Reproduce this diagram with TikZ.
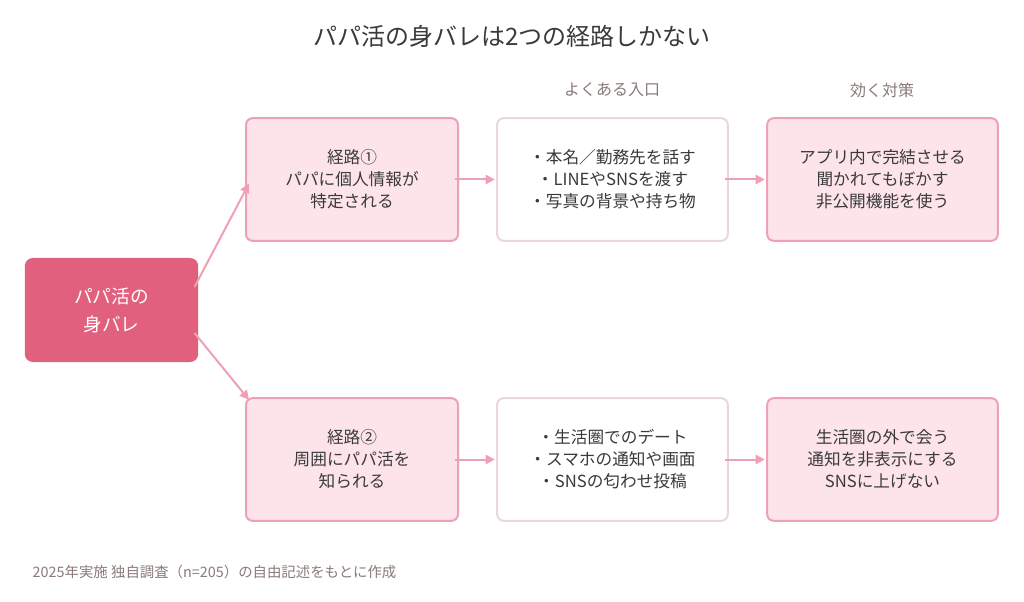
\documentclass[tikz,border=0pt]{standalone}
\usepackage{fontspec}
\setmainfont{Noto Sans CJK JP}
\usetikzlibrary{arrows.meta}
\definecolor{mainpink}{HTML}{E0607E}
\definecolor{lightpink}{HTML}{FCE4EA}
\definecolor{edgepink}{HTML}{F0A0B4}
\definecolor{greyedge}{HTML}{E8D8DA}
\definecolor{headgrey}{HTML}{8A7A78}
\definecolor{textdark}{HTML}{3A3A3A}
\tikzset{
  route/.style={rectangle, rounded corners=5pt, draw=edgepink, line width=1.5pt, fill=lightpink, minimum width=159pt, minimum height=92pt, text width=150pt, align=center, text=textdark, font=\fontsize{12.5}{16.5}\selectfont},
  entry/.style={route, draw=greyedge, fill=white, minimum width=173pt, text width=165pt},
  remedy/.style={route, minimum width=173pt, text width=165pt},
  origin/.style={rectangle, rounded corners=6pt, fill=mainpink, minimum width=130pt, minimum height=78pt, align=center, text=white, font=\fontsize{14}{21}\selectfont},
  head/.style={text=headgrey, font=\fontsize{12}{14}\selectfont},
  arrow/.style={-{Triangle[length=7pt,width=7pt]}, draw=edgepink, line width=1.5pt}
}
\begin{document}
\begin{tikzpicture}[x=0.75pt,y=-0.75pt]
\useasboundingbox (0,0) rectangle (1024,602);

\node (title) at (512,36) [text=textdark, font=\fontsize{18}{22}\selectfont] {パパ活の身バレは2つの経路しかない};
\node (hentry) at (612,90) [head] {よくある入口};
\node (hremedy) at (882,90) [head] {効く対策};

\node (mibare) at (111.5,310) [origin] {パパ活の\\身バレ};

\node (route1) at (352,179.5) [route] {経路①\\パパに個人情報が\\特定される};
\node (entry1) at (612.5,179.5) [entry] {・本名／勤務先を話す\\・LINEやSNSを渡す\\・写真の背景や持ち物};
\node (remedy1) at (882.5,179.5) [remedy] {アプリ内で完結させる\\聞かれてもぼかす\\非公開機能を使う};

\node (route2) at (352,459.5) [route] {経路②\\周囲にパパ活を\\知られる};
\node (entry2) at (612.5,459.5) [entry] {・生活圏でのデート\\・スマホの通知や画面\\・SNSの匂わせ投稿};
\node (remedy2) at (882.5,459.5) [remedy] {生活圏の外で会う\\通知を非表示にする\\SNSに上げない};

\draw [arrow] ([xshift=-3pt,yshift=-22pt]mibare.north east) -- ([xshift=3pt,yshift=-3pt]route1.west);
\draw [arrow] ([xshift=-3pt,yshift=22pt]mibare.south east) -- ([xshift=3pt,yshift=-2pt]route2.north west);
\draw [arrow] ([xshift=-3pt]route1.east) -- ([xshift=-1pt]entry1.west);
\draw [arrow] ([xshift=-3pt]entry1.east) -- ([xshift=-1pt]remedy1.west);
\draw [arrow] ([xshift=-3pt]route2.east) -- ([xshift=-1pt]entry2.west);
\draw [arrow] ([xshift=-3pt]entry2.east) -- ([xshift=-1pt]remedy2.west);

\node (note) at (28,572) [anchor=west, text=headgrey, font=\fontsize{10.8}{12}\selectfont] {2025年実施 独自調査（n=205）の自由記述をもとに作成};
\end{tikzpicture}
\end{document}
